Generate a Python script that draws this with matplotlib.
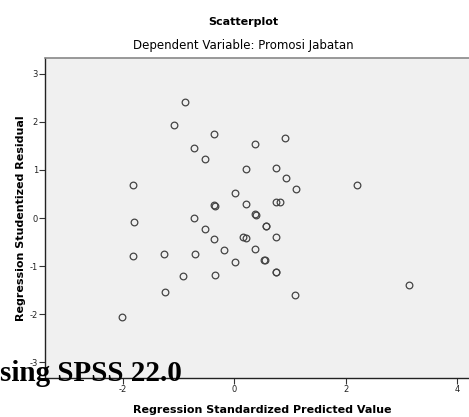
import matplotlib.pyplot as plt

plt.rcParams['axes.unicode_minus'] = False

# predicted value (x) and studentized residual (y)
pred = [-0.89, -1.08, -0.36, -0.72, -0.53, 0.37, 0.90, 0.20, 0.75, 0.92,
        -1.82, 0.01, -0.36, -0.35, 0.20, 0.75, 0.81, -1.80, -0.72, 0.37,
        0.38, -0.53, 0.56, 0.56, -0.36, 0.16, 0.20, 0.75, -1.82, -1.27,
        -0.71, -0.18, 0.37, 0.01, 0.54, 0.55, -0.92, -0.35, 0.75, 0.75,
        -1.25, 1.08, -2.01, 3.14, 1.11, 2.20]
resid = [2.42, 1.93, 1.74, 1.46, 1.22, 1.53, 1.66, 1.01, 1.05, 0.84,
         0.69, 0.53, 0.28, 0.26, 0.29, 0.33, 0.33, -0.08, 0.01, 0.08,
         0.06, -0.22, -0.16, -0.17, -0.44, -0.39, -0.42, -0.40, -0.79, -0.74,
         -0.74, -0.67, -0.64, -0.91, -0.87, -0.88, -1.20, -1.19, -1.12, -1.13,
         -1.53, -1.60, -2.07, -1.39, 0.60, 0.69]

xticks = [-2, 0, 2, 4]
yticks = [-3, -2, -1, 0, 1, 2, 3]

fig = plt.figure(figsize=(4.69, 4.17), dpi=100)
ax = fig.add_axes([45 / 469, 39 / 417, 434.5 / 469, 320 / 417])
ax.set_facecolor('#f0f0f0')

ax.plot(pred, resid, 'o', markersize=4.8, markerfacecolor='none',
        markeredgecolor='#444444', markeredgewidth=0.9)

ax.set_xlim(-3.4, 4.4)
ax.set_ylim(-3.33, 3.33)
ax.set_xticks(xticks)
ax.set_yticks(yticks)
ax.tick_params(labelsize=6, length=4, width=0.8, color='#333333', pad=1,
               labelcolor='#222222')

for s in ['left', 'bottom']:
    ax.spines[s].set_color('#222222')
    ax.spines[s].set_linewidth(1)
ax.spines['top'].set_color('#888888')
ax.spines['top'].set_linewidth(1.2)
ax.spines['right'].set_visible(False)

ax.set_xlabel('Regression Standardized Predicted Value', fontsize=8,
              fontweight='bold', labelpad=8)
ax.set_ylabel('Regression Studentized Residual', fontsize=8,
              fontweight='bold', labelpad=3)

fig.text(243 / 469, 1 - 22 / 417, 'Scatterplot', ha='center', va='center',
         fontsize=8, fontweight='bold')
fig.text(243 / 469, 1 - 46 / 417, 'Dependent Variable: Promosi Jabatan',
         ha='center', va='center', fontsize=8.5)

fig.text(0, 1 - 381 / 417, 'sing SPSS 22.0', ha='left', va='baseline',
         fontsize=21, fontweight='bold', family='Liberation Serif')

fig.savefig('out.png', dpi=100)
